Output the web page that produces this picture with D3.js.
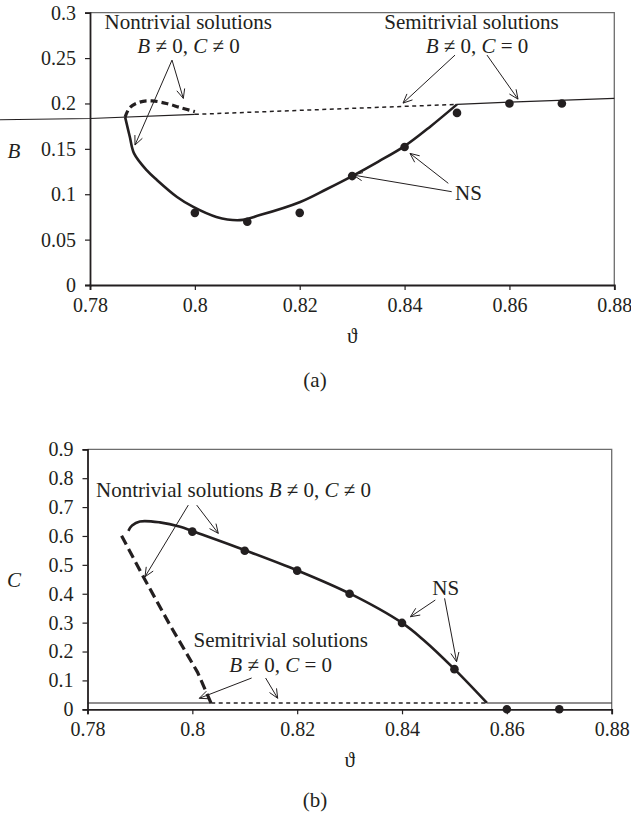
<!DOCTYPE html>
<html>
<head>
<meta charset="utf-8">
<script src="https://cdn.jsdelivr.net/npm/d3@7"></script>
<style>
body { margin: 0; background: #fff; }
</style>
</head>
<body>
<svg id="fig" width="631" height="818"></svg>
<script>
// ---- data ----
var thetaTicks = [0.78, 0.8, 0.82, 0.84, 0.86, 0.88];
var thetaTickLabels = ['0.78', '0.8', '0.82', '0.84', '0.86', '0.88'];
var bTicks = [0, 0.05, 0.1, 0.15, 0.2, 0.25, 0.3];
var bTickLabels = ['0', '0.05', '0.1', '0.15', '0.2', '0.25', '0.3'];
var cTicks = [0, 0.1, 0.2, 0.3, 0.4, 0.5, 0.6, 0.7, 0.8, 0.9];
var cTickLabels = ['0', '0.1', '0.2', '0.3', '0.4', '0.5', '0.6', '0.7', '0.8', '0.9'];

// (a) B
var nsTheta = [0.80, 0.81, 0.82, 0.83, 0.84, 0.85, 0.86, 0.87];
var nsB = [0.0795, 0.0697, 0.0795, 0.120, 0.152, 0.1896, 0.1999, 0.200];
var bStableTheta = [0.7867, 0.7876, 0.7884, 0.7908, 0.7928, 0.7966, 0.7997, 0.8041, 0.8086, 0.8124, 0.8201, 0.8251, 0.830, 0.835, 0.840, 0.845, 0.850];
var bStableVal = [0.185, 0.163, 0.145, 0.1265, 0.1155, 0.097, 0.086, 0.075, 0.0715, 0.077, 0.0915, 0.1055, 0.120, 0.136, 0.153, 0.175, 0.199];
var bUnstableTheta = [0.7867, 0.7876, 0.7895, 0.7918, 0.7946, 0.7972, 0.800];
var bUnstableVal = [0.185, 0.1955, 0.2015, 0.2028, 0.200, 0.1955, 0.191];
var bSemiLeftTheta = [0.7628, 0.78, 0.80];
var bSemiLeftVal = [0.1820, 0.1834, 0.188];
var bSemiMidTheta = [0.80, 0.85];
var bSemiMidVal = [0.188, 0.199];
var bSemiRightTheta = [0.85, 0.86, 0.88];
var bSemiRightVal = [0.199, 0.2015, 0.2056];

// (b) C
var nsC = [0.615, 0.549, 0.480, 0.400, 0.299, 0.139, 0, 0];
var cStableTheta = [0.7878, 0.7885, 0.790, 0.7938, 0.7977, 0.800, 0.810, 0.820, 0.830, 0.840, 0.8441, 0.850, 0.8562];
var cStableVal = [0.618, 0.636, 0.650, 0.647, 0.632, 0.617, 0.551, 0.481, 0.401, 0.299, 0.240, 0.139, 0.022];
var cUnstableTheta = [0.7865, 0.7907, 0.7956, 0.801, 0.8036];
var cUnstableVal = [0.601, 0.457, 0.296, 0.128, 0.020];
var cSemiLeftTheta = [0.78, 0.8036];
var cSemiMidTheta = [0.8036, 0.8562];
var cSemiRightTheta = [0.8562, 0.88];
var cSemiVal = 0.022;

// annotations, in data units
var annA = [
    {text: [['Nontrivial solutions', 0]], t: 0.79875, v: 0.2816, anchor: 'middle'},
    {text: [['B', 1], [' \u2260 0, ', 0], ['C', 1], [' \u2260 0', 0]], t: 0.79879, v: 0.2552, anchor: 'middle'},
    {text: [['Semitrivial solutions', 0]], t: 0.85276, v: 0.2816, anchor: 'middle'},
    {text: [['B', 1], [' \u2260 0, ', 0], ['C', 1], [' = 0', 0]], t: 0.85381, v: 0.2552, anchor: 'middle'},
    {text: [['NS', 0]], t: 0.85219, v: 0.0936, anchor: 'middle'}
];
var arrowsA = [
    [0.79564, 0.2478, 0.78858, 0.1542],
    [0.79564, 0.2478, 0.79780, 0.2056],
    [0.84962, 0.2533, 0.83970, 0.2004],
    [0.85572, 0.2533, 0.86163, 0.2048],
    [0.84899, 0.1028, 0.83022, 0.1211],
    [0.84834, 0.1120, 0.84103, 0.1450]
];
var annB = [
    {text: [['Nontrivial solutions ', 0], ['B', 1], [' \u2260 0, ', 0], ['C', 1], [' \u2260 0', 0]], t: 0.78162, v: 0.7356, anchor: 'start'},
    {text: [['NS', 0]], t: 0.84835, v: 0.3955, anchor: 'middle'},
    {text: [['Semitrivial solutions', 0]], t: 0.81688, v: 0.2166, anchor: 'middle'},
    {text: [['B', 1], [' \u2260 0, ', 0], ['C', 1], [' = 0', 0]], t: 0.81686, v: 0.1301, anchor: 'middle'}
];
var arrowsB = [
    [0.79923, 0.7069, 0.79097, 0.4588],
    [0.80083, 0.7069, 0.80495, 0.6090],
    [0.84635, 0.3782, 0.84160, 0.3204],
    [0.84812, 0.3841, 0.85041, 0.1647],
    [0.81131, 0.1083, 0.80133, 0.0381],
    [0.81398, 0.1083, 0.81628, 0.0381]
];

var ink = '#231f20';
var serif = '"Liberation Serif", "Times New Roman", Times, "DejaVu Serif", serif';
var svg = d3.select('#fig').attr('font-family', serif);

function drawLine(g, x, y, pts, width, dash, curve) {
    g.append('path')
        .datum(pts)
        .attr('fill', 'none')
        .attr('stroke', ink)
        .attr('stroke-width', width)
        .attr('stroke-dasharray', dash)
        .attr('d', d3.line()
            .x(function(d) { return x(d[0]); })
            .y(function(d) { return y(d[1]); })
            .curve(curve || d3.curveLinear));
}

function drawArrow(g, x, y, a) {
    var x1 = x(a[0]), y1 = y(a[1]), x2 = x(a[2]), y2 = y(a[3]);
    var ang = Math.atan2(y2 - y1, x2 - x1), L = 10, s = 0.42;
    var p = 'M' + x1 + ',' + y1 + 'L' + x2 + ',' + y2 +
        'M' + (x2 - L * Math.cos(ang - s)) + ',' + (y2 - L * Math.sin(ang - s)) +
        'L' + x2 + ',' + y2 +
        'L' + (x2 - L * Math.cos(ang + s)) + ',' + (y2 - L * Math.sin(ang + s));
    g.append('path').attr('d', p).attr('fill', 'none').attr('stroke', ink).attr('stroke-width', 1);
}

function drawLabel(g, x, y, a) {
    var t = g.append('text')
        .attr('x', x(a.t)).attr('y', y(a.v))
        .attr('text-anchor', a.anchor)
        .attr('font-family', serif)
        .attr('fill', ink)
        .attr('font-size', 21);
    a.text.forEach(function(p) {
        t.append('tspan').text(p[0]).attr('font-style', p[1] ? 'italic' : null);
    });
}

function createPlot(cfg) {
    var g = svg.append('g')
        .attr('transform', 'translate(' + cfg.left + ',' + cfg.top + ')');
    var x = d3.scaleLinear().domain([0.78, 0.88]).range([0, cfg.width]);
    var y = d3.scaleLinear().domain([0, cfg.ymax]).range([cfg.height, 0]);

    // gray frame top / right
    g.append('path')
        .attr('d', 'M0,0H' + cfg.width + 'V' + cfg.height)
        .attr('fill', 'none').attr('stroke', '#6d6d6d').attr('stroke-width', 1.3);

    var xa = g.append('g')
        .attr('transform', 'translate(0,' + cfg.height + ')')
        .call(d3.axisBottom(x).tickValues(thetaTicks)
            .tickFormat(function(d, i) { return thetaTickLabels[i]; })
            .tickSizeOuter(0).tickSize(5).tickPadding(8));
    var ya = g.append('g')
        .call(d3.axisLeft(y).tickValues(cfg.ticks)
            .tickFormat(function(d, i) { return cfg.tickLabels[i]; })
            .tickSizeOuter(0).tickSize(5).tickPadding(9));
    [xa, ya].forEach(function(a) {
        a.attr('font-family', serif).attr('font-size', 20);
        a.select('.domain').attr('stroke', ink).attr('stroke-width', 1.8);
        a.selectAll('.tick line').attr('stroke', ink).attr('stroke-width', 1.2);
        a.selectAll('.tick text').attr('fill', ink).attr('font-family', serif);
    });

    cfg.draw(g, x, y);

    cfg.notes.forEach(function(a) { drawLabel(g, x, y, a); });
    cfg.arrows.forEach(function(a) { drawArrow(g, x, y, a); });

    g.selectAll('circle.ns')
        .data(d3.zip(nsTheta, cfg.dots))
        .enter().append('circle')
        .attr('class', 'ns')
        .attr('cx', function(d) { return x(d[0]); })
        .attr('cy', function(d) { return y(d[1]); })
        .attr('r', 4.3)
        .attr('fill', ink);

    // axis titles
    g.append('text')
        .attr('x', cfg.width / 2).attr('y', cfg.height + 58)
        .attr('text-anchor', 'middle').attr('font-size', 21)
        .attr('font-family', serif).attr('fill', ink)
        .text('\u03d1');
    g.append('text')
        .attr('x', -cfg.left + 14).attr('y', cfg.titleY)
        .attr('text-anchor', 'middle').attr('font-size', 21)
        .attr('font-family', serif).attr('fill', ink)
        .attr('font-style', 'italic')
        .text(cfg.title);
    svg.append('text')
        .attr('x', 315).attr('y', cfg.captionY)
        .attr('text-anchor', 'middle').attr('font-size', 21)
        .attr('font-family', serif).attr('fill', ink)
        .text(cfg.caption);
}

createPlot({
    left: 90, top: 12.7, width: 524.3, height: 272.3, ymax: 0.3,
    ticks: bTicks, tickLabels: bTickLabels, dots: nsB,
    title: 'B', titleY: 145, caption: '(a)', captionY: 387,
    notes: annA, arrows: arrowsA,
    draw: function(g, x, y) {
        drawLine(g, x, y, d3.zip(bSemiLeftTheta, bSemiLeftVal), 1.1, null);
        drawLine(g, x, y, d3.zip(bSemiMidTheta, bSemiMidVal), 1.5, '4,3.5');
        drawLine(g, x, y, d3.zip(bSemiRightTheta, bSemiRightVal), 1.1, null);
        drawLine(g, x, y, d3.zip(bUnstableTheta, bUnstableVal), 3.2, '7,4', d3.curveCatmullRom.alpha(0.5));
        drawLine(g, x, y, d3.zip(bStableTheta, bStableVal), 2.6, null, d3.curveCatmullRom.alpha(0.5));
    }
});

createPlot({
    left: 87.5, top: 449.3, width: 524.2, height: 260, ymax: 0.9,
    ticks: cTicks, tickLabels: cTickLabels, dots: nsC,
    title: 'C', titleY: 138, caption: '(b)', captionY: 807,
    notes: annB, arrows: arrowsB,
    draw: function(g, x, y) {
        drawLine(g, x, y, cSemiLeftTheta.map(function(t) { return [t, cSemiVal]; }), 1.1, null);
        drawLine(g, x, y, cSemiMidTheta.map(function(t) { return [t, cSemiVal]; }), 1.5, '4,3.5');
        drawLine(g, x, y, cSemiRightTheta.map(function(t) { return [t, cSemiVal]; }), 1.1, null);
        drawLine(g, x, y, d3.zip(cUnstableTheta, cUnstableVal), 3.2, '10,5');
        drawLine(g, x, y, d3.zip(cStableTheta, cStableVal), 2.6, null, d3.curveCatmullRom.alpha(0.5));
    }
});
</script>
</body>
</html>
